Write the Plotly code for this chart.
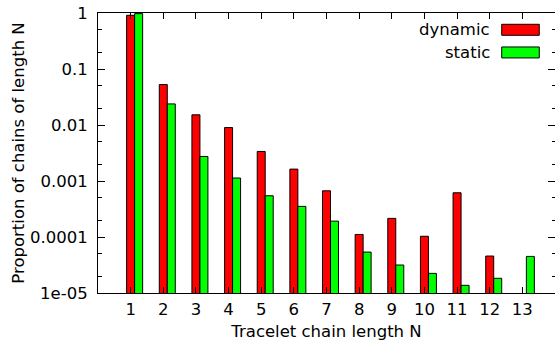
import plotly.graph_objects as go

# ---- data ----
chain_length = [1, 2, 3, 4, 5, 6, 7, 8, 9, 10, 11, 12, 13]
dynamic = [0.91, 0.0528, 0.0152, 0.0090, 0.00337, 0.00163, 0.000668,
           0.000111, 0.000215, 0.000103, 0.000616, 0.0000457, None]
static = [0.975, 0.0238, 0.00274, 0.00113, 0.000545, 0.000352, 0.000192,
          0.0000538, 0.0000316, 0.0000224, 0.0000137, 0.0000183, 0.000045]
y_tickvals = [1, 0.1, 0.01, 0.001, 0.0001, 0.00001]
y_ticktext = ["1", "0.1", "0.01", "0.001", "0.0001", "1e-05"]
series_names = ["dynamic", "static"]

RED = "#ff0000"
GREEN = "#00ff00"
FONT = dict(family="DejaVu Sans", size=16.5, color="#000000")
BW = 0.245

minor_vals = []
for d in range(-5, 0):
    for m in (2, 5):
        minor_vals.append(m * 10 ** d)

fig = go.Figure()
fig.add_trace(go.Bar(x=chain_length, y=dynamic, name=series_names[0],
                     width=BW, offset=-BW / 2,
                     marker=dict(color=RED, line=dict(color="#000000", width=1)),
                     showlegend=False))
fig.add_trace(go.Bar(x=chain_length, y=static, name=series_names[1],
                     width=BW, offset=BW / 2,
                     marker=dict(color=GREEN, line=dict(color="#000000", width=1)),
                     showlegend=False))

# custom legend (text left of swatch, as in the original)
leg = [(series_names[0], RED, 0.9597, 0.9204), (series_names[1], GREEN, 0.8787, 0.8395)]
for name, col, y1, y0 in leg:
    fig.add_shape(type="rect", xref="paper", yref="paper",
                  x0=0.8834, x1=0.9656, y0=y0, y1=y1,
                  fillcolor=col, line=dict(color="#000000", width=1))
    fig.add_annotation(text=name, xref="paper", yref="paper",
                       x=0.8615, y=(y0 + y1) / 2, xanchor="right", yanchor="middle",
                       showarrow=False, font=FONT)

fig.update_layout(
    width=555, height=341,
    margin=dict(l=98, r=0, t=13, b=48),
    plot_bgcolor="white", paper_bgcolor="white",
    barmode="overlay",
    font=FONT,
    xaxis=dict(range=[0, 14], tickvals=chain_length,
               ticktext=[str(c) for c in chain_length],
               ticks="inside", ticklen=6, tickcolor="#000000",
               showline=True, linecolor="#000000", linewidth=1, mirror="ticks",
               showgrid=False, zeroline=False,
               ticklabelstandoff=1,
               title=dict(text="Tracelet chain length N", font=FONT, standoff=7)),
    yaxis=dict(type="log", range=[-5, 0], tickvals=y_tickvals, ticktext=y_ticktext,
               ticks="inside", ticklen=7, tickcolor="#000000",
               minor=dict(tickvals=minor_vals, ticks="inside", ticklen=3.5,
                          tickcolor="#000000", showgrid=False),
               showline=True, linecolor="#000000", linewidth=1, mirror="ticks",
               showgrid=False, zeroline=False,
               ticklabelstandoff=6,
               title=dict(text="Proportion of chains of length N", font=FONT, standoff=1)),
)

fig.write_html("out.html", config={"displayModeBar": False},
               post_script="document.body.style.margin='0';document.body.style.overflow='hidden';")
